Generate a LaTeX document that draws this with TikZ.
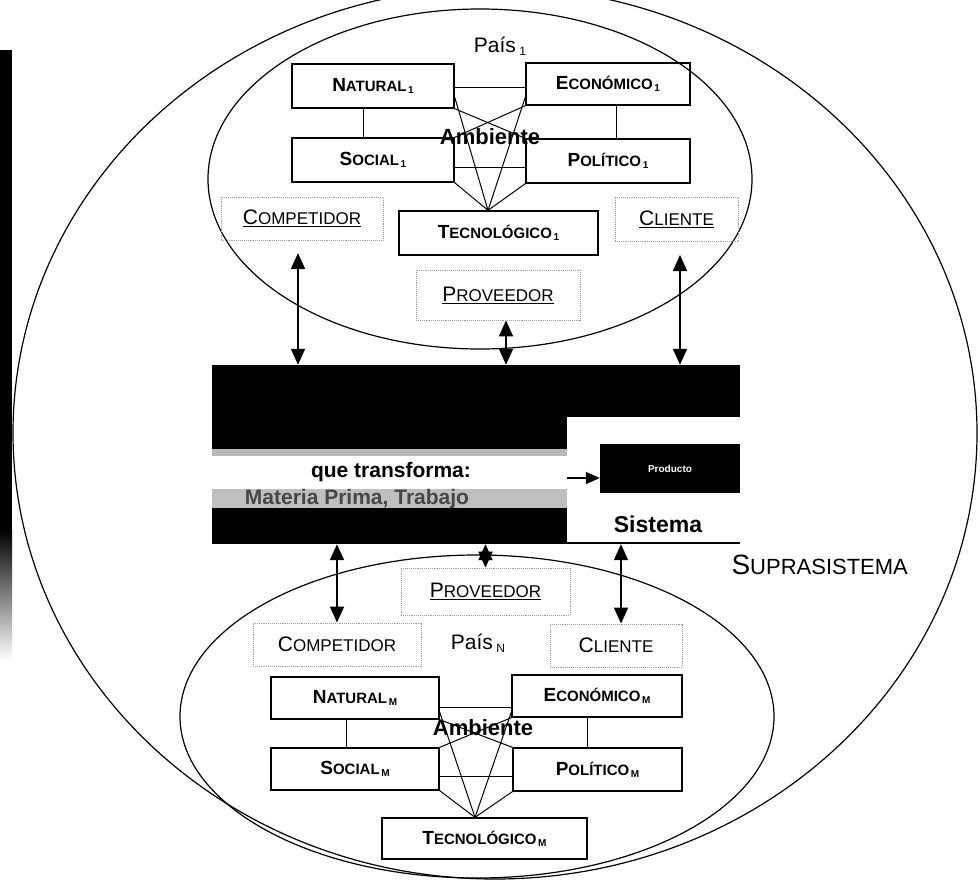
\documentclass[tikz,border=0pt]{standalone}
\usepackage{fontspec}
\setmainfont{Liberation Sans}
\usetikzlibrary{arrows.meta}
\newcommand\smcap[4]{{\fontsize{#1}{#1}\selectfont #3}{\fontsize{#2}{#2}\selectfont #4}}
\newcommand\sbx[1]{\,\raisebox{-2pt}{\fontsize{10}{10}\selectfont #1}}
\newcommand\sbp[1]{\,\raisebox{-3pt}{\fontsize{12}{12}\selectfont #1}}
\tikzset{
  envbox/.style={draw=black, line width=1.3pt, inner sep=0pt, font=\bfseries},
  actor/.style={draw=gray!75, densely dotted, line width=0.9pt, inner sep=0pt},
  link/.style={line width=1pt},
  biarrow/.style={line width=1.8pt, {Triangle[length=16pt,width=14pt]}-{Triangle[length=16pt,width=14pt]}},
  orb/.style={line width=1.2pt}
}
\begin{document}
\begin{tikzpicture}[x=1pt,y=-1pt]
\clip (0,0) rectangle (980,883);
\fill[white] (0,0) rectangle (980,883);
% scan bar on the left
\fill (0,50) rectangle (12,530);
\shade[top color=black, bottom color=white] (0,530) rectangle (12,660);
% ellipses
\draw[orb] (495,433) ellipse [x radius=482pt, y radius=446pt];
\draw[orb] (480,179) ellipse [x radius=272pt, y radius=170pt];
\draw[orb] (477,716.5) ellipse [x radius=297pt, y radius=161.5pt];

% ---------- upper country ----------
\node[font=\fontsize{21}{21}\selectfont] (pais1) at (500,46) {País\sbp{1}};
\node[font=\bfseries\fontsize{22}{22}\selectfont] (amb1) at (490,137) {Ambiente};
\node[envbox, minimum width=162pt, minimum height=44pt] (nat1) at (373,86) {\smcap{19}{15}{N}{ATURAL}\sbx{1}};
\node[envbox, minimum width=164pt, minimum height=42pt] (eco1) at (608,84) {\smcap{19}{15}{E}{CONÓMICO}\sbx{1}};
\node[envbox, minimum width=162pt, minimum height=44pt] (soc1) at (373,160) {\smcap{19}{15}{S}{OCIAL}\sbx{1}};
\node[envbox, minimum width=164pt, minimum height=44pt] (pol1) at (608,161) {\smcap{19}{15}{P}{OLÍTICO}\sbx{1}};
\node[envbox, minimum width=199pt, minimum height=44pt] (tec1) at (498.5,233) {\smcap{19}{15}{T}{ECNOLÓGICO}\sbx{1}};
\node[actor, minimum width=162pt, minimum height=43pt] (comp1) at (302,218.5) {\underline{\smcap{21}{17}{C}{OMPETIDOR}}};
\node[actor, minimum width=123pt, minimum height=44pt] (cli1) at (676.5,219) {\underline{\smcap{21}{17}{C}{LIENTE}}};
\node[actor, minimum width=164pt, minimum height=50pt] (prov1) at (498,295) {\underline{\smcap{21}{17}{P}{ROVEEDOR}}};

\draw[link] (nat1.east |- 0,87) -- (eco1.west |- 0,87);
\draw[link] (nat1.south -| 363,0) -- (soc1.north -| 363,0);
\draw[link] (eco1.south -| 616,0) -- (pol1.north -| 616,0);
\draw[link] (soc1.east |- 0,167) -- (pol1.west |- 0,167);
\coordinate (t1) at (tec1.north -| 488,0);
\draw[link] (nat1.east |- 0,97) -- (t1);
\draw[link] (eco1.west |- 0,97) -- (t1);
\draw[link] (nat1.south east) -- (pol1.north west);
\draw[link] (eco1.south west) -- (soc1.north east);
\draw[link] (soc1.south east) -- (t1);
\draw[link] (pol1.south west) -- (t1);

% ---------- system block ----------
\node[inner sep=0pt, minimum width=528pt, minimum height=179pt] (sys) at (476,454.5) {};
\fill (212,365) rectangle (740,417);
\fill (212,417) rectangle (567,449);
\fill[gray!55] (212,449) rectangle (567,456);
\fill[gray!50] (212,489) rectangle (567,508);
\fill (212,508) rectangle (567,544);
\node[font=\bfseries\fontsize{21}{21}\selectfont] (qt) at (391,472) {que transforma:};
\node[font=\bfseries\fontsize{21}{21}\selectfont, text=black!72] (mp) at (357,499) {Materia Prima, Trabajo};
\node[fill=black, text=white, inner sep=0pt, minimum width=140pt, minimum height=49pt,
      font=\bfseries\fontsize{10}{10}\selectfont] (out) at (670,468.5) {Producto};
\coordinate (inarr) at (567,478);
\draw[line width=1.6pt, -{Triangle[length=14pt,width=12pt]}] (inarr) -- (inarr -| out.west);
\node[font=\bfseries\fontsize{23}{23}\selectfont] (sist) at (658,524) {Sistema};
\coordinate (sysline) at (567,543);
\draw[line width=1.6pt] (sysline) -- (sysline -| sys.east);

% arrows upper
\coordinate (c1) at (298,253);
\coordinate (c3) at (680,255);
\draw[biarrow] (c1) -- (c1 |- sys.north);
\draw[biarrow] ([xshift=8pt]prov1.south) -- ([xshift=8pt]prov1.south |- sys.north);
\draw[biarrow] (c3) -- (c3 |- sys.north);

% ---------- lower country ----------
\node[font=\fontsize{21}{21}\selectfont] (paisN) at (478,643) {País\sbp{N}};
\node[font=\bfseries\fontsize{22}{22}\selectfont] (ambN) at (483,728) {Ambiente};
\node[actor, minimum width=169pt, minimum height=47pt] (provN) at (485.5,591.5) {\underline{\smcap{21}{17}{P}{ROVEEDOR}}};
\node[actor, minimum width=168pt, minimum height=43pt] (compN) at (337,644.5) {\smcap{21}{17}{C}{OMPETIDOR}};
\node[actor, minimum width=132pt, minimum height=43pt] (cliN) at (616,645.5) {\smcap{21}{17}{C}{LIENTE}};
\node[envbox, minimum width=168pt, minimum height=42pt] (natN) at (355,698) {\smcap{19}{15}{N}{ATURAL}\sbx{M}};
\node[envbox, minimum width=170pt, minimum height=42pt] (ecoN) at (597,696) {\smcap{19}{15}{E}{CONÓMICO}\sbx{M}};
\node[envbox, minimum width=168pt, minimum height=42pt] (socN) at (355,769) {\smcap{19}{15}{S}{OCIAL}\sbx{M}};
\node[envbox, minimum width=169pt, minimum height=43pt] (polN) at (597.5,769.5) {\smcap{19}{15}{P}{OLÍTICO}\sbx{M}};
\node[envbox, minimum width=205pt, minimum height=41pt] (tecN) at (484.5,838.5) {\smcap{19}{15}{T}{ECNOLÓGICO}\sbx{M}};

\draw[link] (natN.east |- 0,707) -- (ecoN.west |- 0,707);
\draw[link] (natN.south -| 346,0) -- (socN.north -| 346,0);
\draw[link] (ecoN.south -| 587,0) -- (polN.north -| 587,0);
\draw[link] (socN.east |- 0,776) -- (polN.west |- 0,776);
\coordinate (tN) at (tecN.north -| 475,0);
\draw[link] (natN.east |- 0,712) -- (tN);
\draw[link] (ecoN.west |- 0,712) -- (tN);
\draw[link] (natN.south east) -- (polN.north west);
\draw[link] (ecoN.south west) -- (socN.north east);
\draw[link] (socN.south east) -- (tN);
\draw[link] (polN.south west) -- (tN);

% arrows lower
\draw[biarrow] (compN.north |- sys.south) -- (compN.north);
\draw[biarrow] (provN.north |- sys.south) -- (provN.north);
\draw[biarrow] ([xshift=5pt]cliN.north |- sys.south) -- ([xshift=5pt]cliN.north);

\node[anchor=west] (supra) at (728,565) {\smcap{28}{22}{S}{UPRASISTEMA}};
\end{tikzpicture}
\end{document}
